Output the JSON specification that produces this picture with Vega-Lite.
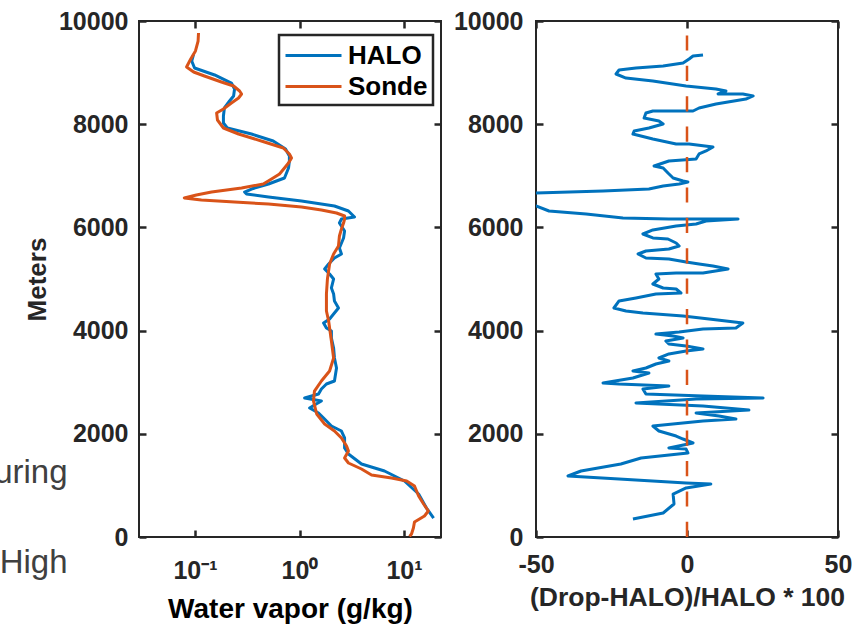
{
  "$schema": "https://vega.github.io/schema/vega-lite/v6.json",
  "background": "white",
  "padding": {"left": -7, "top": 8, "right": 2, "bottom": 0},
  "spacing": 95,
  "bounds": "flush",
  "config": {
    "font": "Liberation Sans",
    "view": {"stroke": "#262626", "strokeWidth": 2},
    "axis": {
      "labelFont": "Liberation Sans", "labelFontWeight": "bold", "labelFontSize": 25, "labelColor": "#262626",
      "titleFont": "Liberation Sans", "titleFontWeight": "bold", "titleColor": "#262626",
      "domain": false, "grid": false, "tickColor": "#262626", "tickWidth": 2.5, "tickSize": -7,
      "labelFlush": false, "labelOverlap": false
    }
  },
  "datasets": {
    "wv": [
      {"s":"HALO","i":1,"alt":9360,"wv":0.097},{"s":"HALO","i":2,"alt":9225,"wv":0.093},{"s":"HALO","i":3,"alt":9089,"wv":0.099},
      {"s":"HALO","i":4,"alt":8954,"wv":0.154},{"s":"HALO","i":5,"alt":8798,"wv":0.223},{"s":"HALO","i":6,"alt":8682,"wv":0.239},
      {"s":"HALO","i":7,"alt":8547,"wv":0.234},{"s":"HALO","i":8,"alt":8450,"wv":0.214},{"s":"HALO","i":9,"alt":8314,"wv":0.191},
      {"s":"HALO","i":10,"alt":8159,"wv":0.187},{"s":"HALO","i":11,"alt":8023,"wv":0.187},{"s":"HALO","i":12,"alt":7926,"wv":0.204},
      {"s":"HALO","i":13,"alt":7810,"wv":0.347},{"s":"HALO","i":14,"alt":7675,"wv":0.56},{"s":"HALO","i":15,"alt":7520,"wv":0.735},
      {"s":"HALO","i":16,"alt":7384,"wv":0.80},{"s":"HALO","i":17,"alt":7287,"wv":0.80},{"s":"HALO","i":18,"alt":7151,"wv":0.785},
      {"s":"HALO","i":19,"alt":6957,"wv":0.718},{"s":"HALO","i":20,"alt":6841,"wv":0.505},{"s":"HALO","i":21,"alt":6744,"wv":0.347},
      {"s":"HALO","i":22,"alt":6686,"wv":0.298},{"s":"HALO","i":23,"alt":6647,"wv":0.311},{"s":"HALO","i":24,"alt":6589,"wv":0.505},
      {"s":"HALO","i":25,"alt":6511,"wv":1.045},{"s":"HALO","i":26,"alt":6415,"wv":2.16},{"s":"HALO","i":27,"alt":6318,"wv":2.94},
      {"s":"HALO","i":28,"alt":6201,"wv":3.36},{"s":"HALO","i":29,"alt":6162,"wv":2.52},{"s":"HALO","i":30,"alt":6085,"wv":2.41},
      {"s":"HALO","i":31,"alt":5930,"wv":2.70},{"s":"HALO","i":32,"alt":5795,"wv":2.64},{"s":"HALO","i":33,"alt":5601,"wv":2.41},
      {"s":"HALO","i":34,"alt":5485,"wv":2.52},{"s":"HALO","i":35,"alt":5407,"wv":2.16},{"s":"HALO","i":36,"alt":5291,"wv":1.90},
      {"s":"HALO","i":37,"alt":5194,"wv":1.74},{"s":"HALO","i":38,"alt":5097,"wv":1.94},{"s":"HALO","i":39,"alt":5000,"wv":2.12},
      {"s":"HALO","i":40,"alt":4826,"wv":2.02},{"s":"HALO","i":41,"alt":4709,"wv":2.12},{"s":"HALO","i":42,"alt":4574,"wv":2.16},
      {"s":"HALO","i":43,"alt":4438,"wv":2.36},{"s":"HALO","i":44,"alt":4322,"wv":2.12},{"s":"HALO","i":45,"alt":4225,"wv":1.94},
      {"s":"HALO","i":46,"alt":4147,"wv":1.70},{"s":"HALO","i":47,"alt":4050,"wv":1.81},{"s":"HALO","i":48,"alt":3992,"wv":2.02},
      {"s":"HALO","i":49,"alt":3857,"wv":2.02},{"s":"HALO","i":50,"alt":3663,"wv":2.12},{"s":"HALO","i":51,"alt":3469,"wv":2.16},
      {"s":"HALO","i":52,"alt":3275,"wv":2.26},{"s":"HALO","i":53,"alt":3023,"wv":2.16},{"s":"HALO","i":54,"alt":2965,"wv":1.81},
      {"s":"HALO","i":55,"alt":2868,"wv":1.62},{"s":"HALO","i":56,"alt":2771,"wv":1.52},{"s":"HALO","i":57,"alt":2694,"wv":1.12},
      {"s":"HALO","i":58,"alt":2636,"wv":1.62},{"s":"HALO","i":59,"alt":2558,"wv":1.39},{"s":"HALO","i":60,"alt":2500,"wv":1.25},
      {"s":"HALO","i":61,"alt":2403,"wv":1.52},{"s":"HALO","i":62,"alt":2306,"wv":1.70},{"s":"HALO","i":63,"alt":2151,"wv":2.02},
      {"s":"HALO","i":64,"alt":2054,"wv":2.52},{"s":"HALO","i":65,"alt":1919,"wv":2.70},{"s":"HALO","i":66,"alt":1725,"wv":2.70},
      {"s":"HALO","i":67,"alt":1609,"wv":2.94},{"s":"HALO","i":68,"alt":1415,"wv":3.92},{"s":"HALO","i":69,"alt":1279,"wv":6.51},
      {"s":"HALO","i":70,"alt":1085,"wv":10.1},{"s":"HALO","i":71,"alt":833,"wv":13.8},{"s":"HALO","i":72,"alt":562,"wv":16.4},
      {"s":"HALO","i":73,"alt":368,"wv":19.2},
      {"s":"Sonde","i":1,"alt":9767,"wv":0.108},{"s":"Sonde","i":2,"alt":9612,"wv":0.107},{"s":"Sonde","i":3,"alt":9419,"wv":0.101},
      {"s":"Sonde","i":4,"alt":9264,"wv":0.091},{"s":"Sonde","i":5,"alt":9109,"wv":0.083},{"s":"Sonde","i":6,"alt":9012,"wv":0.097},
      {"s":"Sonde","i":7,"alt":8934,"wv":0.123},{"s":"Sonde","i":8,"alt":8818,"wv":0.179},{"s":"Sonde","i":9,"alt":8740,"wv":0.234},
      {"s":"Sonde","i":10,"alt":8644,"wv":0.267},{"s":"Sonde","i":11,"alt":8585,"wv":0.279},{"s":"Sonde","i":12,"alt":8508,"wv":0.261},
      {"s":"Sonde","i":13,"alt":8411,"wv":0.223},{"s":"Sonde","i":14,"alt":8295,"wv":0.187},{"s":"Sonde","i":15,"alt":8217,"wv":0.161},
      {"s":"Sonde","i":16,"alt":8081,"wv":0.164},{"s":"Sonde","i":17,"alt":7926,"wv":0.187},{"s":"Sonde","i":18,"alt":7810,"wv":0.261},
      {"s":"Sonde","i":19,"alt":7655,"wv":0.462},{"s":"Sonde","i":20,"alt":7539,"wv":0.70},{"s":"Sonde","i":21,"alt":7423,"wv":0.80},
      {"s":"Sonde","i":22,"alt":7345,"wv":0.838},{"s":"Sonde","i":23,"alt":7248,"wv":0.785},{"s":"Sonde","i":24,"alt":7151,"wv":0.718},
      {"s":"Sonde","i":25,"alt":7035,"wv":0.644},{"s":"Sonde","i":26,"alt":6938,"wv":0.54},{"s":"Sonde","i":27,"alt":6841,"wv":0.45},
      {"s":"Sonde","i":28,"alt":6764,"wv":0.279},{"s":"Sonde","i":29,"alt":6686,"wv":0.144},{"s":"Sonde","i":30,"alt":6628,"wv":0.103},
      {"s":"Sonde","i":31,"alt":6570,"wv":0.079},{"s":"Sonde","i":32,"alt":6531,"wv":0.115},{"s":"Sonde","i":33,"alt":6492,"wv":0.239},
      {"s":"Sonde","i":34,"alt":6453,"wv":0.505},{"s":"Sonde","i":35,"alt":6395,"wv":1.045},{"s":"Sonde","i":36,"alt":6337,"wv":1.62},
      {"s":"Sonde","i":37,"alt":6279,"wv":2.26},{"s":"Sonde","i":38,"alt":6221,"wv":2.70},{"s":"Sonde","i":39,"alt":6162,"wv":2.70},
      {"s":"Sonde","i":40,"alt":6085,"wv":2.64},{"s":"Sonde","i":41,"alt":5969,"wv":2.52},{"s":"Sonde","i":42,"alt":5833,"wv":2.41},
      {"s":"Sonde","i":43,"alt":5640,"wv":2.36},{"s":"Sonde","i":44,"alt":5485,"wv":2.12},{"s":"Sonde","i":45,"alt":5291,"wv":1.94},
      {"s":"Sonde","i":46,"alt":5000,"wv":1.85},{"s":"Sonde","i":47,"alt":4709,"wv":1.81},{"s":"Sonde","i":48,"alt":4380,"wv":1.81},
      {"s":"Sonde","i":49,"alt":4186,"wv":1.90},{"s":"Sonde","i":50,"alt":3798,"wv":2.02},{"s":"Sonde","i":51,"alt":3469,"wv":2.12},
      {"s":"Sonde","i":52,"alt":3217,"wv":1.94},{"s":"Sonde","i":53,"alt":3023,"wv":1.62},{"s":"Sonde","i":54,"alt":2829,"wv":1.39},
      {"s":"Sonde","i":55,"alt":2636,"wv":1.36},{"s":"Sonde","i":56,"alt":2384,"wv":1.46},{"s":"Sonde","i":57,"alt":2190,"wv":1.74},
      {"s":"Sonde","i":58,"alt":2054,"wv":2.16},{"s":"Sonde","i":59,"alt":1919,"wv":2.52},{"s":"Sonde","i":60,"alt":1764,"wv":2.82},
      {"s":"Sonde","i":61,"alt":1667,"wv":2.94},{"s":"Sonde","i":62,"alt":1531,"wv":2.70},{"s":"Sonde","i":63,"alt":1434,"wv":2.94},
      {"s":"Sonde","i":64,"alt":1318,"wv":3.92},{"s":"Sonde","i":65,"alt":1202,"wv":4.89},{"s":"Sonde","i":66,"alt":1143,"wv":7.59},
      {"s":"Sonde","i":67,"alt":1085,"wv":10.6},{"s":"Sonde","i":68,"alt":988,"wv":12.6},{"s":"Sonde","i":69,"alt":795,"wv":13.8},
      {"s":"Sonde","i":70,"alt":640,"wv":15.4},{"s":"Sonde","i":71,"alt":504,"wv":17.1},{"s":"Sonde","i":72,"alt":407,"wv":15.7},
      {"s":"Sonde","i":73,"alt":291,"wv":12.6},{"s":"Sonde","i":74,"alt":174,"wv":12.3},{"s":"Sonde","i":75,"alt":58,"wv":11.8},
      {"s":"Sonde","i":76,"alt":10,"wv":11.3}
    ],
    "stray": [
      {"t":"uring","alt":1047,"wv":0.00603},
      {"t":"High","alt":-698,"wv":0.00603}
    ],
    "diff": [
      {"i":1,"alt":9341,"pct":5.3},{"i":2,"alt":9322,"pct":2.0},{"i":3,"alt":9264,"pct":0.7},{"i":4,"alt":9186,"pct":-1.3},
      {"i":5,"alt":9128,"pct":-7.9},{"i":6,"alt":9089,"pct":-16.9},{"i":7,"alt":9050,"pct":-22.5},{"i":8,"alt":8973,"pct":-23.5},
      {"i":9,"alt":8895,"pct":-20.2},{"i":10,"alt":8837,"pct":-11.3},{"i":11,"alt":8740,"pct":-0.3},{"i":12,"alt":8682,"pct":9.6},
      {"i":13,"alt":8643,"pct":12.9},{"i":14,"alt":8585,"pct":10.3},{"i":15,"alt":8585,"pct":18.5},{"i":16,"alt":8547,"pct":21.9},
      {"i":17,"alt":8488,"pct":19.5},{"i":18,"alt":8392,"pct":9.6},{"i":19,"alt":8314,"pct":4.0},{"i":20,"alt":8256,"pct":2.0},
      {"i":21,"alt":8256,"pct":-11.3},{"i":22,"alt":8217,"pct":-13.6},{"i":23,"alt":8120,"pct":-14.2},{"i":24,"alt":8062,"pct":-9.3},
      {"i":25,"alt":8004,"pct":-7.9},{"i":26,"alt":7926,"pct":-12.6},{"i":27,"alt":7868,"pct":-17.5},{"i":28,"alt":7810,"pct":-17.9},
      {"i":29,"alt":7713,"pct":-11.3},{"i":30,"alt":7616,"pct":-3.6},{"i":31,"alt":7616,"pct":0.7},{"i":32,"alt":7558,"pct":8.6},
      {"i":33,"alt":7481,"pct":6.3},{"i":34,"alt":7423,"pct":4.0},{"i":35,"alt":7326,"pct":3.0},{"i":36,"alt":7287,"pct":-6.0},
      {"i":37,"alt":7190,"pct":-10.9},{"i":38,"alt":7151,"pct":-7.9},{"i":39,"alt":7054,"pct":-6.3},{"i":40,"alt":6957,"pct":-4.6},
      {"i":41,"alt":6899,"pct":-1.3},{"i":42,"alt":6880,"pct":0.3},{"i":43,"alt":6841,"pct":-2.6},{"i":44,"alt":6802,"pct":-7.9},
      {"i":45,"alt":6744,"pct":-12.6},{"i":46,"alt":6705,"pct":-27.8},{"i":47,"alt":6667,"pct":-50},{"i":48,"alt":6600,"pct":-72},
      {"i":49,"alt":6450,"pct":-60},{"i":50,"alt":6415,"pct":-50},{"i":51,"alt":6318,"pct":-45.7},{"i":52,"alt":6260,"pct":-33.4},
      {"i":53,"alt":6182,"pct":-21.2},{"i":54,"alt":6162,"pct":-6.0},{"i":55,"alt":6162,"pct":5.3},{"i":56,"alt":6162,"pct":16.9},
      {"i":57,"alt":6124,"pct":6.3},{"i":58,"alt":6066,"pct":3.0},{"i":59,"alt":6027,"pct":-3.6},{"i":60,"alt":5950,"pct":-11.3},
      {"i":61,"alt":5872,"pct":-14.6},{"i":62,"alt":5795,"pct":-11.3},{"i":63,"alt":5775,"pct":-6.3},{"i":64,"alt":5698,"pct":-3.6},
      {"i":65,"alt":5640,"pct":-2.6},{"i":66,"alt":5581,"pct":-6.0},{"i":67,"alt":5543,"pct":-13.6},{"i":68,"alt":5485,"pct":-16.2},
      {"i":69,"alt":5407,"pct":-13.6},{"i":70,"alt":5388,"pct":-6.0},{"i":71,"alt":5330,"pct":-0.3},{"i":72,"alt":5291,"pct":4.0},
      {"i":73,"alt":5252,"pct":8.6},{"i":74,"alt":5194,"pct":13.6},{"i":75,"alt":5116,"pct":5.3},{"i":76,"alt":5116,"pct":-3.6},
      {"i":77,"alt":5097,"pct":-10.3},{"i":78,"alt":5000,"pct":-9.3},{"i":79,"alt":4903,"pct":-11.3},{"i":80,"alt":4826,"pct":-7.9},
      {"i":81,"alt":4806,"pct":-3.6},{"i":82,"alt":4729,"pct":-2.0},{"i":83,"alt":4709,"pct":-10.3},{"i":84,"alt":4632,"pct":-16.9},
      {"i":85,"alt":4574,"pct":-22.5},{"i":86,"alt":4438,"pct":-24.2},{"i":87,"alt":4380,"pct":-20.2},{"i":88,"alt":4341,"pct":-14.6},
      {"i":89,"alt":4283,"pct":-1.3},{"i":90,"alt":4225,"pct":7.3},{"i":91,"alt":4147,"pct":18.5},{"i":92,"alt":4050,"pct":16.2},
      {"i":93,"alt":4031,"pct":5.3},{"i":94,"alt":3973,"pct":-2.6},{"i":95,"alt":3934,"pct":-10.3},{"i":96,"alt":3895,"pct":-4.6},
      {"i":97,"alt":3857,"pct":-1.3},{"i":98,"alt":3798,"pct":-7.0},{"i":99,"alt":3740,"pct":-6.0},{"i":100,"alt":3702,"pct":-0.3},
      {"i":101,"alt":3643,"pct":5.3},{"i":102,"alt":3605,"pct":-0.3},{"i":103,"alt":3547,"pct":-6.0},{"i":104,"alt":3469,"pct":-9.3},
      {"i":105,"alt":3411,"pct":-6.0},{"i":106,"alt":3353,"pct":-10.3},{"i":107,"alt":3275,"pct":-13.6},{"i":108,"alt":3217,"pct":-17.9},
      {"i":109,"alt":3178,"pct":-12.6},{"i":110,"alt":3081,"pct":-17.9},{"i":111,"alt":2985,"pct":-27.8},{"i":112,"alt":2965,"pct":-22.5},
      {"i":113,"alt":2926,"pct":-6.0},{"i":114,"alt":2868,"pct":-14.6},{"i":115,"alt":2771,"pct":-13.6},{"i":116,"alt":2733,"pct":5.3},
      {"i":117,"alt":2694,"pct":25.2},{"i":118,"alt":2674,"pct":3.0},{"i":119,"alt":2597,"pct":-16.9},{"i":120,"alt":2539,"pct":5.3},
      {"i":121,"alt":2461,"pct":20.5},{"i":122,"alt":2403,"pct":3.0},{"i":123,"alt":2345,"pct":10.6},{"i":124,"alt":2287,"pct":16.2},
      {"i":125,"alt":2248,"pct":5.3},{"i":126,"alt":2151,"pct":-11.3},{"i":127,"alt":2054,"pct":-9.3},{"i":128,"alt":1957,"pct":-3.6},
      {"i":129,"alt":1899,"pct":-1.3},{"i":130,"alt":1822,"pct":2.0},{"i":131,"alt":1725,"pct":-6.0},{"i":132,"alt":1705,"pct":-0.3},
      {"i":133,"alt":1628,"pct":0.3},{"i":134,"alt":1531,"pct":-15.2},{"i":135,"alt":1415,"pct":-21.9},{"i":136,"alt":1279,"pct":-35.1},
      {"i":137,"alt":1182,"pct":-39.4},{"i":138,"alt":1124,"pct":-22.5},{"i":139,"alt":1047,"pct":-0.3},{"i":140,"alt":1027,"pct":7.9},
      {"i":141,"alt":950,"pct":-0.3},{"i":142,"alt":833,"pct":-4.6},{"i":143,"alt":640,"pct":-4.3},{"i":144,"alt":465,"pct":-7.9},
      {"i":145,"alt":349,"pct":-17.9}
    ],
    "zero": [{"pct":0,"alt":0,"alt2":10000}]
  },
  "hconcat": [
    {
      "width": 302,
      "height": 516,
      "resolve": {"axis": {"x": "independent", "y": "independent"}},
      "layer": [
        {
          "data": {"name": "wv"},
          "mark": {"type": "line", "strokeWidth": 3, "strokeJoin": "round", "clip": true},
          "encoding": {
            "x": {
              "field": "wv", "type": "quantitative",
              "scale": {"type": "log", "domain": [0.0291, 22.6], "nice": false},
              "axis": {"orient": "bottom", "values": [0.1, 1, 10],
                "labelExpr": "datum.value < 0.5 ? '10⁻¹' : (datum.value < 5 ? '10⁰' : '10¹')",
                "title": "Water vapor (g/kg)", "titleColor": "black", "titleFontSize": 28,
                "labelPadding": 28, "titlePadding": 12}
            },
            "y": {
              "field": "alt", "type": "quantitative",
              "scale": {"domain": [0, 10000], "nice": false},
              "axis": {"orient": "left", "values": [0, 2000, 4000, 6000, 8000, 10000], "format": "d", "title": "Meters",
                "titleFontSize": 26, "labelPadding": 18, "titlePadding": 8}
            },
            "color": {
              "field": "s", "type": "nominal",
              "scale": {"domain": ["HALO", "Sonde"], "range": ["#0072BD", "#D95319"]},
              "legend": {
                "title": null, "orient": "none", "legendX": 140, "legendY": 14,
                "direction": "vertical", "strokeColor": "#262626", "fillColor": "white",
                "padding": 5, "labelFont": "Liberation Sans", "labelFontWeight": "bold",
                "labelFontSize": 26, "labelColor": "black", "symbolType": "M-1,0H3",
                "symbolSize": 784, "symbolStrokeWidth": 3, "rowPadding": 2, "labelOffset": 33,
                "encode": {"legend": {"update": {"strokeWidth": {"value": 2.5}}}}
              }
            },
            "order": {"field": "i", "type": "quantitative"}
          }
        },
        {
          "data": {"name": "stray"},
          "mark": {"type": "text", "align": "right", "baseline": "alphabetic", "fontSize": 33,
            "font": "Liberation Sans", "color": "#404040"},
          "encoding": {
            "x": {
              "field": "wv", "type": "quantitative",
              "scale": {"type": "log", "domain": [0.0291, 22.6], "nice": false},
              "axis": {"orient": "top", "labels": false, "title": null, "values": [0.1, 1, 10]}
            },
            "y": {
              "field": "alt", "type": "quantitative",
              "scale": {"domain": [0, 10000], "nice": false},
              "axis": {"orient": "right", "labels": false, "title": null, "values": [0, 2000, 4000, 6000, 8000, 10000]}
            },
            "text": {"field": "t"}
          }
        }
      ]
    },
    {
      "width": 302,
      "height": 516,
      "resolve": {"axis": {"x": "independent", "y": "independent"}},
      "layer": [
        {
          "data": {"name": "diff"},
          "mark": {"type": "line", "strokeWidth": 3, "strokeJoin": "round", "clip": true, "color": "#0072BD"},
          "encoding": {
            "x": {
              "field": "pct", "type": "quantitative",
              "scale": {"domain": [-50, 50], "nice": false},
              "axis": {"orient": "bottom", "values": [-50, 0, 50],
                "labelExpr": "datum.value < 0 ? '-' + format(-datum.value, 'd') : format(datum.value, 'd')",
                "title": "(Drop-HALO)/HALO * 100",
                "titleFontSize": 26.5, "labelPadding": 22, "titlePadding": 7}
            },
            "y": {
              "field": "alt", "type": "quantitative",
              "scale": {"domain": [0, 10000], "nice": false},
              "axis": {"orient": "left", "values": [0, 2000, 4000, 6000, 8000, 10000], "format": "d", "title": null, "labelPadding": 20}
            },
            "order": {"field": "i", "type": "quantitative"}
          }
        },
        {
          "data": {"name": "zero"},
          "mark": {"type": "rule", "color": "#D95319", "strokeWidth": 2.5, "strokeDash": [15.2, 15.2]},
          "encoding": {
            "x": {
              "field": "pct", "type": "quantitative",
              "scale": {"domain": [-50, 50], "nice": false},
              "axis": {"orient": "top", "labels": false, "title": null, "values": [-50, 0, 50]}
            },
            "y": {
              "field": "alt", "type": "quantitative",
              "scale": {"domain": [0, 10000], "nice": false},
              "axis": {"orient": "right", "labels": false, "title": null, "values": [0, 2000, 4000, 6000, 8000, 10000]}
            },
            "y2": {"field": "alt2"}
          }
        }
      ]
    }
  ]
}
